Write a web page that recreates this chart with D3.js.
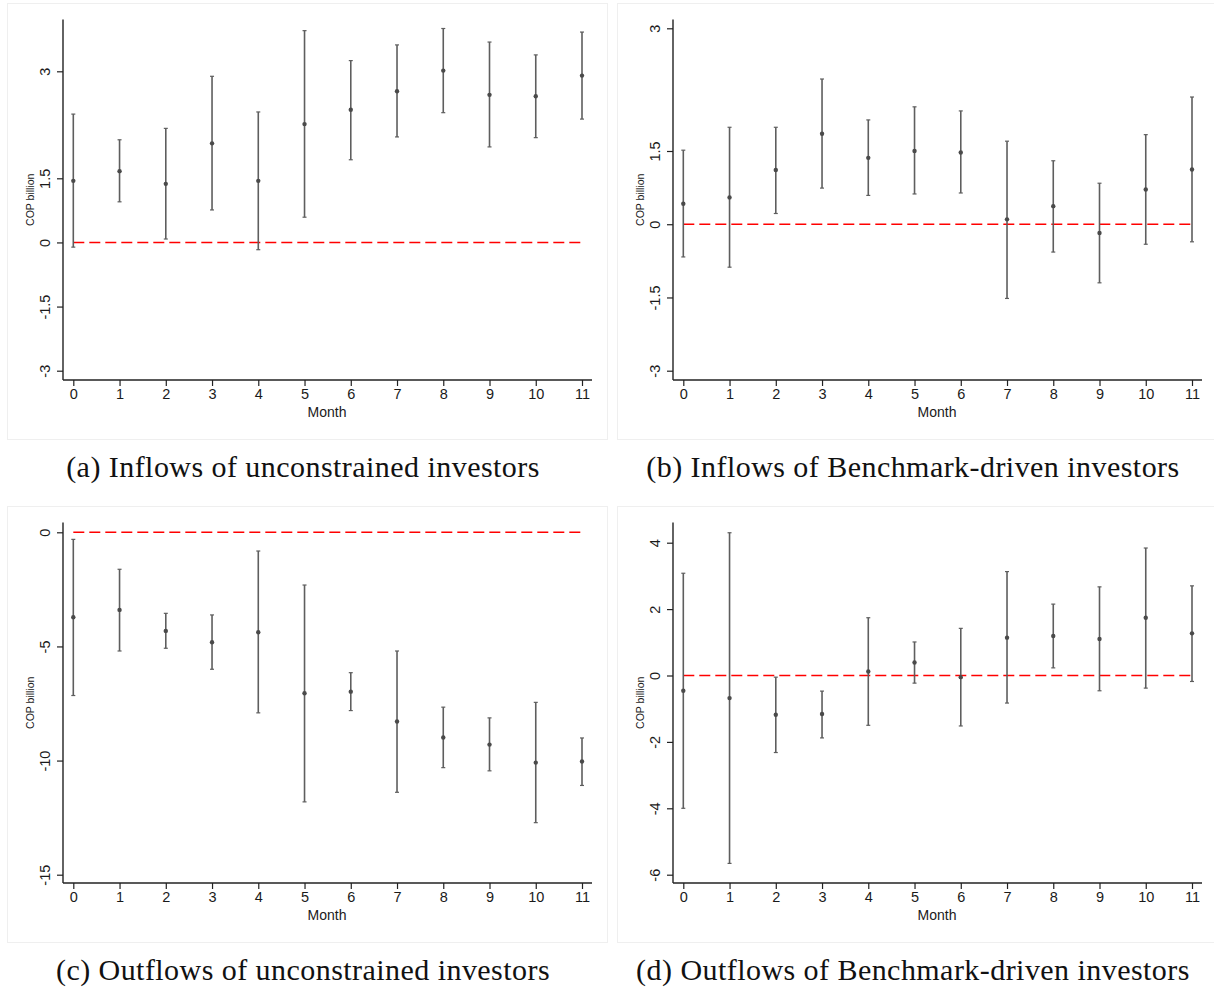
<!DOCTYPE html>
<html>
<head>
<meta charset="utf-8">
<script src="https://cdn.jsdelivr.net/npm/d3@7"></script>
<style>
  html, body { margin: 0; padding: 0; background: #fff; }
  svg { display: block; }
</style>
</head>
<body>
<svg id="fig" width="1214" height="994"></svg>
<script>
// Event-study estimates by month with 95% confidence intervals (COP billion)
const months = [0, 1, 2, 3, 4, 5, 6, 7, 8, 9, 10, 11];

// (a) Inflows of unconstrained investors
const estA = [1.44, 1.60, 1.37, 1.99, 1.44, 2.26, 2.46, 2.72, 3.01, 2.67, 2.65, 2.94];
const loA  = [-0.11, 0.95, 0.08, 0.76, -0.17, 0.59, 1.76, 2.08, 2.42, 1.94, 2.07, 2.33];
const hiA  = [2.40, 2.04, 2.20, 2.93, 2.43, 3.57, 3.15, 3.37, 3.60, 3.41, 3.23, 3.55];

// (b) Inflows of Benchmark-driven investors
const estB = [0.42, 0.55, 1.11, 1.71, 1.36, 1.50, 1.47, 0.10, 0.37, -0.18, 0.71, 1.12];
const loB  = [-0.67, -0.88, 0.22, 0.74, 0.59, 0.62, 0.64, -1.52, -0.57, -1.20, -0.41, -0.36];
const hiB  = [1.51, 1.79, 1.79, 2.38, 1.88, 2.04, 1.99, 1.62, 1.30, 0.84, 1.70, 2.16];

// (c) Outflows of unconstrained investors
const estC = [-3.72, -3.40, -4.32, -4.82, -4.38, -7.05, -6.98, -8.29, -8.99, -9.30, -10.09, -10.04];
const loC  = [-7.15, -5.20, -5.08, -6.00, -7.91, -11.81, -7.81, -11.39, -10.31, -10.45, -12.72, -11.09];
const hiC  = [-0.31, -1.62, -3.55, -3.62, -0.82, -2.31, -6.15, -5.20, -7.66, -8.13, -7.45, -9.01];

// (d) Outflows of Benchmark-driven investors
const estD = [-0.46, -0.68, -1.18, -1.16, 0.12, 0.39, -0.05, 1.14, 1.19, 1.10, 1.74, 1.27];
const loD  = [-4.00, -5.66, -2.32, -1.88, -1.50, -0.23, -1.52, -0.83, 0.23, -0.46, -0.38, -0.18];
const hiD  = [3.08, 4.30, -0.05, -0.47, 1.74, 1.01, 1.42, 3.13, 2.15, 2.67, 3.84, 2.70];

// y-axis ticks per panel
const ticksA = [-3, -1.5, 0, 1.5, 3];
const ticksB = [-3, -1.5, 0, 1.5, 3];
const ticksC = [-15, -10, -5, 0];
const ticksD = [-6, -4, -2, 0, 2, 4];

const captions = [
  "(a) Inflows of unconstrained investors",
  "(b) Inflows of Benchmark-driven investors",
  "(c) Outflows of unconstrained investors",
  "(d) Outflows of Benchmark-driven investors"
];

const xLabel = "Month";
const yLabel = "COP billion";

// Panel layout: offset of each panel, and the y positions of the axis breakpoints
const panels = [
  { est: estA, lo: loA, hi: hiA, ticks: ticksA, caption: captions[0],
    dx: 0, dy: 0, yDomain: [-3, 1.5, 3], yRange: [370.7, 178.3, 71.3] },
  { est: estB, lo: loB, hi: hiB, ticks: ticksB, caption: captions[1],
    dx: 610, dy: 0, yDomain: [-3, 1.5, 3], yRange: [370.7, 151.0, 28.3] },
  { est: estC, lo: loC, hi: hiC, ticks: ticksC, caption: captions[2],
    dx: 0, dy: 503, yDomain: [-15, 0], yRange: [371.7, 29.3] },
  { est: estD, lo: loD, hi: hiD, ticks: ticksD, caption: captions[3],
    dx: 610, dy: 503, yDomain: [-6, 4], yRange: [371.7, 39.7] }
];

const svg = d3.select("#fig");
const sans = "'Liberation Sans', Arial, Helvetica, sans-serif";
const serif = "'Liberation Serif', 'Times New Roman', serif";

const axisLeft = 63, axisRight = 592, axisTop = 19.5, axisBottom = 380;

panels.forEach(p => {
  const g = svg.append("g").attr("transform", `translate(${p.dx},${p.dy})`);

  // faint frame of the panel image
  g.append("rect")
    .attr("x", 7.5).attr("y", 3.5).attr("width", 600).attr("height", 436)
    .attr("fill", "none").attr("stroke", "#efefef").attr("stroke-width", 1);

  const x = d3.scaleLinear().domain([0, 11]).range([73.3, 582]);
  const y = d3.scaleLinear().domain(p.yDomain).range(p.yRange);

  // y axis
  const ya = g.append("g").attr("transform", `translate(${axisLeft},0)`)
    .call(d3.axisLeft(y).tickValues(p.ticks).tickSize(6).tickPadding(0)
      .tickFormat(d => String(d)));
  ya.select(".domain").attr("d", `M0,${axisTop}V${axisBottom}`)
    .attr("stroke", "#222").attr("stroke-width", 1.4);
  ya.selectAll(".tick line").attr("stroke", "#222").attr("stroke-width", 1.2);
  ya.selectAll(".tick text")
    .attr("x", 0).attr("dy", 0)
    .attr("transform", "translate(-18,0) rotate(-90)")
    .attr("text-anchor", "middle")
    .attr("dominant-baseline", "central")
    .attr("font-family", sans).attr("font-size", 14.5).attr("fill", "#1a1a1a");

  // x axis
  const xa = g.append("g").attr("transform", `translate(0,${axisBottom})`)
    .call(d3.axisBottom(x).tickValues(months).tickSize(6).tickPadding(3)
      .tickFormat(d3.format("d")));
  xa.select(".domain").attr("d", `M${axisLeft},0H${axisRight}`)
    .attr("stroke", "#222").attr("stroke-width", 1.4);
  xa.selectAll(".tick line").attr("stroke", "#222").attr("stroke-width", 1.2);
  xa.selectAll(".tick text")
    .attr("font-family", sans).attr("font-size", 14.5).attr("fill", "#1a1a1a");

  // axis titles
  g.append("text")
    .attr("x", 327).attr("y", 417)
    .attr("text-anchor", "middle")
    .attr("font-family", sans).attr("font-size", 14).attr("fill", "#1a1a1a")
    .text(xLabel);
  g.append("text")
    .attr("transform", `translate(34,${(axisTop + axisBottom) / 2}) rotate(-90)`)
    .attr("text-anchor", "middle")
    .attr("font-family", sans).attr("font-size", 10.5).attr("fill", "#1a1a1a")
    .text(yLabel);

  // zero reference line
  g.append("line")
    .attr("x1", x(0)).attr("x2", x(11))
    .attr("y1", y(0)).attr("y2", y(0))
    .attr("stroke", "#ff0000").attr("stroke-width", 1.6)
    .attr("stroke-dasharray", "11,5");

  // confidence intervals
  const bars = g.append("g").selectAll("g").data(months).join("g");
  bars.append("line")
    .attr("x1", d => x(d)).attr("x2", d => x(d))
    .attr("y1", (d, i) => y(p.lo[i])).attr("y2", (d, i) => y(p.hi[i]))
    .attr("stroke", "#5e5e5e").attr("stroke-width", 1.6);
  bars.append("line")
    .attr("x1", d => x(d) - 2).attr("x2", d => x(d) + 2)
    .attr("y1", (d, i) => y(p.lo[i])).attr("y2", (d, i) => y(p.lo[i]))
    .attr("stroke", "#5e5e5e").attr("stroke-width", 1.2);
  bars.append("line")
    .attr("x1", d => x(d) - 2).attr("x2", d => x(d) + 2)
    .attr("y1", (d, i) => y(p.hi[i])).attr("y2", (d, i) => y(p.hi[i]))
    .attr("stroke", "#5e5e5e").attr("stroke-width", 1.2);

  // point estimates
  bars.append("circle")
    .attr("cx", d => x(d)).attr("cy", (d, i) => y(p.est[i]))
    .attr("r", 2.2).attr("fill", "#4a4a4a");

  // caption below the panel
  g.append("text")
    .attr("x", 303).attr("y", 477)
    .attr("text-anchor", "middle")
    .attr("font-family", serif).attr("font-size", 30)
    .attr("letter-spacing", 0.45).attr("fill", "#111")
    .text(p.caption);
});
</script>
</body>
</html>
